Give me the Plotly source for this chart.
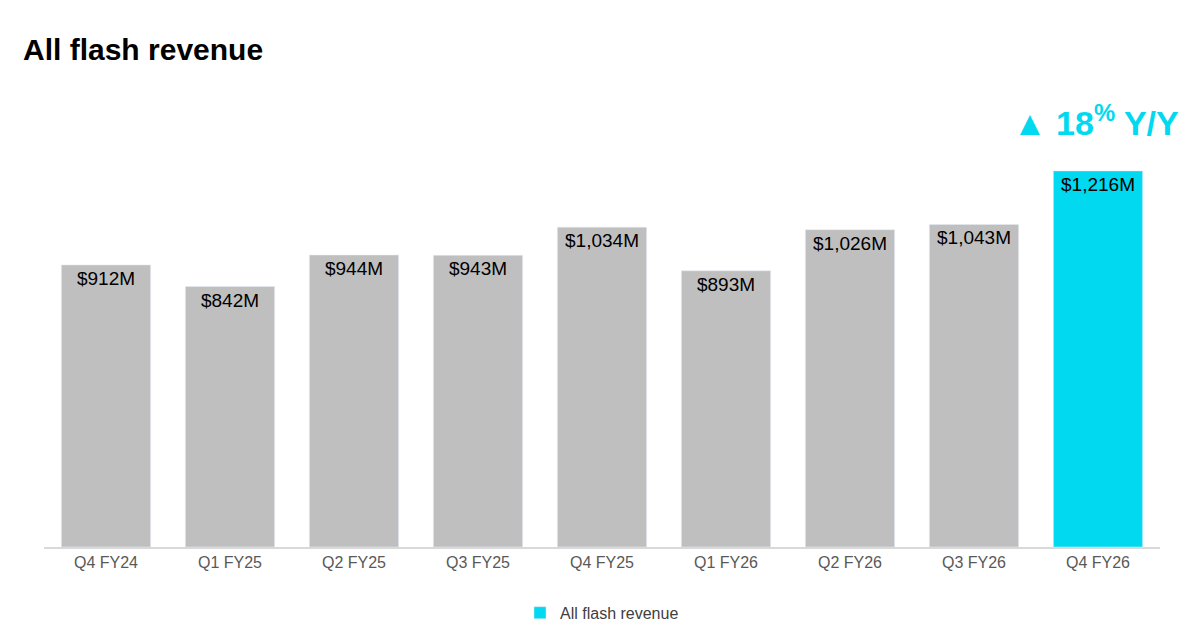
import plotly.graph_objects as go

# Quarterly all flash revenue, $M
quarters = ['Q4 FY24', 'Q1 FY25', 'Q2 FY25', 'Q3 FY25', 'Q4 FY25',
            'Q1 FY26', 'Q2 FY26', 'Q3 FY26', 'Q4 FY26']
revenue = [912, 842, 944, 943, 1034, 893, 1026, 1043, 1216]
labels = ['$912M', '$842M', '$944M', '$943M', '$1,034M',
          '$893M', '$1,026M', '$1,043M', '$1,216M']

# Latest quarter highlighted in cyan
colors = ['#BFBFBF'] * (len(quarters) - 1) + ['#00D9EF']

fig = go.Figure(
    data=[go.Bar(
        x=quarters,
        y=revenue,
        marker_color=colors,
        text=labels,
        textposition='inside',
        insidetextanchor='end',
        textfont=dict(color='black', size=19, family='Liberation Sans'),
        name='All flash revenue',
        showlegend=False
    ),
        # legend entry only
        go.Bar(x=[None], y=[None], marker_color='#00D9EF', name='All flash revenue')],

    layout=go.Layout(
        width=1200, height=641,
        paper_bgcolor='white', plot_bgcolor='white',
        margin=dict(l=36, r=48, t=106, b=102),
        bargap=0.28, barmode='overlay',
        xaxis=dict(
            showline=True, linecolor='#D9D9D9', linewidth=1.5,
            tickfont=dict(color='#595959', size=16, family='Liberation Sans'),
            ticks=''
        ),
        yaxis=dict(range=[0, 1400], visible=False),
        showlegend=True,
        legend=dict(orientation='h', x=0.5, xanchor='center', y=-0.152, yanchor='middle',
                    font=dict(color='#404040', size=16, family='Liberation Sans')),
        annotations=[
            dict(text='<b>All flash revenue</b>', xref='paper', yref='paper',
                 x=-0.021, y=1.148, xanchor='left', yanchor='middle', showarrow=False,
                 font=dict(size=30, color='black', family='Liberation Sans')),
            dict(text='<b>▲ 18<sup>%</sup> Y/Y</b>', xref='paper', yref='paper',
                 x=1.019, y=0.985, xanchor='right', yanchor='middle', showarrow=False,
                 font=dict(size=34, color='#00D9EF', family='Liberation Sans')),
        ]
    )
)

fig.write_html('out.html')
